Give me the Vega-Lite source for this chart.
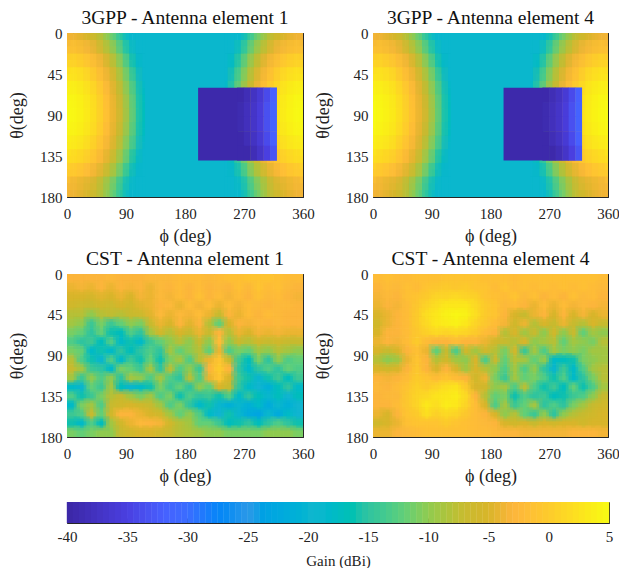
{"$schema":"https://vega.github.io/schema/vega-lite/v6.json","background":"white","padding":{"left":8,"top":7,"right":5,"bottom":0},
"config":{"font":"Liberation Serif","view":{"stroke":"#262626","strokeWidth":1},"title":{"font":"Liberation Serif","fontSize":19.5,"fontWeight":"normal","color":"#111","offset":-2},
"axis":{"grid":false,"domain":false,"tickSize":-3,"tickColor":"#262626","labelColor":"#222","titleColor":"#222","labelFont":"Liberation Serif","titleFont":"Liberation Serif","labelFontSize":15,"titleFontSize":18,"titleFontWeight":"normal","zindex":1,"labelFlush":false,"labelAngle":0},"axisX":{"labelPadding":12,"titlePadding":6},"axisY":{"labelPadding":8,"titlePadding":13}},
"datasets":{
"box":[{"a":119,"b":241,"c":0,"d":180,"g":-19},{"a":200,"b":261,"c":60,"d":140,"g":-39.5}],
"hole":[{"f":265,"t":68,"g":-39.5},{"f":275,"t":68,"g":-38.5},{"f":285,"t":68,"g":-37.5},{"f":295,"t":68,"g":-36},{"f":305,"t":68,"g":-34},{"f":315,"t":68,"g":-32},
{"f":265,"t":84,"g":-39},{"f":275,"t":84,"g":-38},{"f":285,"t":84,"g":-37},{"f":295,"t":84,"g":-35.5},{"f":305,"t":84,"g":-33.5},{"f":315,"t":84,"g":-31.5},
{"f":265,"t":100,"g":-39},{"f":275,"t":100,"g":-38},{"f":285,"t":100,"g":-37},{"f":295,"t":100,"g":-35.5},{"f":305,"t":100,"g":-33.5},{"f":315,"t":100,"g":-31.5},
{"f":265,"t":116,"g":-39.5},{"f":275,"t":116,"g":-38.5},{"f":285,"t":116,"g":-37.5},{"f":295,"t":116,"g":-36},{"f":305,"t":116,"g":-34},{"f":315,"t":116,"g":-32},
{"f":265,"t":132,"g":-39.5},{"f":275,"t":132,"g":-39.5},{"f":285,"t":132,"g":-38.5},{"f":295,"t":132,"g":-37},{"f":305,"t":132,"g":-35},{"f":315,"t":132,"g":-33}],
"gpp":[
{"f":5,"t":7.5,"g":-3.6},{"f":15,"t":7.5,"g":-4},{"f":25,"t":7.5,"g":-4.6},{"f":35,"t":7.5,"g":-5.6},{"f":45,"t":7.5,"g":-7},{"f":55,"t":7.5,"g":-8.6},{"f":65,"t":7.5,"g":-10.6},{"f":75,"t":7.5,"g":-13},{"f":85,"t":7.5,"g":-15.6},{"f":95,"t":7.5,"g":-18.6},{"f":105,"t":7.5,"g":-19},{"f":115,"t":7.5,"g":-19},
{"f":245,"t":7.5,"g":-19},{"f":255,"t":7.5,"g":-19},{"f":265,"t":7.5,"g":-18.6},{"f":275,"t":7.5,"g":-15.6},{"f":285,"t":7.5,"g":-13},{"f":295,"t":7.5,"g":-10.6},{"f":305,"t":7.5,"g":-8.6},{"f":315,"t":7.5,"g":-7},{"f":325,"t":7.5,"g":-5.6},{"f":335,"t":7.5,"g":-4.6},{"f":345,"t":7.5,"g":-4},{"f":355,"t":7.5,"g":-3.6},
{"f":5,"t":22.5,"g":-0.8},{"f":15,"t":22.5,"g":-1.1},{"f":25,"t":22.5,"g":-1.8},{"f":35,"t":22.5,"g":-2.8},{"f":45,"t":22.5,"g":-4.1},{"f":55,"t":22.5,"g":-5.8},{"f":65,"t":22.5,"g":-7.8},{"f":75,"t":22.5,"g":-10.1},{"f":85,"t":22.5,"g":-12.8},{"f":95,"t":22.5,"g":-15.8},{"f":105,"t":22.5,"g":-19},{"f":115,"t":22.5,"g":-19},
{"f":245,"t":22.5,"g":-19},{"f":255,"t":22.5,"g":-19},{"f":265,"t":22.5,"g":-15.8},{"f":275,"t":22.5,"g":-12.8},{"f":285,"t":22.5,"g":-10.1},{"f":295,"t":22.5,"g":-7.8},{"f":305,"t":22.5,"g":-5.8},{"f":315,"t":22.5,"g":-4.1},{"f":325,"t":22.5,"g":-2.8},{"f":335,"t":22.5,"g":-1.8},{"f":345,"t":22.5,"g":-1.1},{"f":355,"t":22.5,"g":-0.8},
{"f":5,"t":37.5,"g":1.5},{"f":15,"t":37.5,"g":1.1},{"f":25,"t":37.5,"g":0.5},{"f":35,"t":37.5,"g":-0.5},{"f":45,"t":37.5,"g":-1.9},{"f":55,"t":37.5,"g":-3.5},{"f":65,"t":37.5,"g":-5.5},{"f":75,"t":37.5,"g":-7.9},{"f":85,"t":37.5,"g":-10.5},{"f":95,"t":37.5,"g":-13.5},{"f":105,"t":37.5,"g":-16.9},{"f":115,"t":37.5,"g":-19},
{"f":245,"t":37.5,"g":-19},{"f":255,"t":37.5,"g":-16.9},{"f":265,"t":37.5,"g":-13.5},{"f":275,"t":37.5,"g":-10.5},{"f":285,"t":37.5,"g":-7.9},{"f":295,"t":37.5,"g":-5.5},{"f":305,"t":37.5,"g":-3.5},{"f":315,"t":37.5,"g":-1.9},{"f":325,"t":37.5,"g":-0.5},{"f":335,"t":37.5,"g":0.5},{"f":345,"t":37.5,"g":1.1},{"f":355,"t":37.5,"g":1.5},
{"f":5,"t":52.5,"g":3.2},{"f":15,"t":52.5,"g":2.8},{"f":25,"t":52.5,"g":2.2},{"f":35,"t":52.5,"g":1.2},{"f":45,"t":52.5,"g":-0.2},{"f":55,"t":52.5,"g":-1.8},{"f":65,"t":52.5,"g":-3.8},{"f":75,"t":52.5,"g":-6.2},{"f":85,"t":52.5,"g":-8.8},{"f":95,"t":52.5,"g":-11.8},{"f":105,"t":52.5,"g":-15.2},{"f":115,"t":52.5,"g":-18.8},
{"f":245,"t":52.5,"g":-18.8},{"f":255,"t":52.5,"g":-15.2},{"f":265,"t":52.5,"g":-11.8},{"f":275,"t":52.5,"g":-8.8},{"f":285,"t":52.5,"g":-6.2},{"f":295,"t":52.5,"g":-3.8},{"f":305,"t":52.5,"g":-1.8},{"f":315,"t":52.5,"g":-0.2},{"f":325,"t":52.5,"g":1.2},{"f":335,"t":52.5,"g":2.2},{"f":345,"t":52.5,"g":2.8},{"f":355,"t":52.5,"g":3.2},
{"f":5,"t":67.5,"g":4.3},{"f":15,"t":67.5,"g":4},{"f":25,"t":67.5,"g":3.3},{"f":35,"t":67.5,"g":2.3},{"f":45,"t":67.5,"g":1},{"f":55,"t":67.5,"g":-0.7},{"f":65,"t":67.5,"g":-2.7},{"f":75,"t":67.5,"g":-5},{"f":85,"t":67.5,"g":-7.7},{"f":95,"t":67.5,"g":-10.7},{"f":105,"t":67.5,"g":-14},{"f":115,"t":67.5,"g":-17.6},
{"f":245,"t":67.5,"g":-17.6},{"f":255,"t":67.5,"g":-14},{"f":265,"t":67.5,"g":-10.7},{"f":275,"t":67.5,"g":-7.7},{"f":285,"t":67.5,"g":-5},{"f":295,"t":67.5,"g":-2.7},{"f":305,"t":67.5,"g":-0.7},{"f":315,"t":67.5,"g":1},{"f":325,"t":67.5,"g":2.3},{"f":335,"t":67.5,"g":3.3},{"f":345,"t":67.5,"g":4},{"f":355,"t":67.5,"g":4.3},
{"f":5,"t":82.5,"g":4.9},{"f":15,"t":82.5,"g":4.5},{"f":25,"t":82.5,"g":3.9},{"f":35,"t":82.5,"g":2.9},{"f":45,"t":82.5,"g":1.5},{"f":55,"t":82.5,"g":-0.1},{"f":65,"t":82.5,"g":-2.1},{"f":75,"t":82.5,"g":-4.5},{"f":85,"t":82.5,"g":-7.1},{"f":95,"t":82.5,"g":-10.1},{"f":105,"t":82.5,"g":-13.5},{"f":115,"t":82.5,"g":-17.1},
{"f":245,"t":82.5,"g":-17.1},{"f":255,"t":82.5,"g":-13.5},{"f":265,"t":82.5,"g":-10.1},{"f":275,"t":82.5,"g":-7.1},{"f":285,"t":82.5,"g":-4.5},{"f":295,"t":82.5,"g":-2.1},{"f":305,"t":82.5,"g":-0.1},{"f":315,"t":82.5,"g":1.5},{"f":325,"t":82.5,"g":2.9},{"f":335,"t":82.5,"g":3.9},{"f":345,"t":82.5,"g":4.5},{"f":355,"t":82.5,"g":4.9},
{"f":5,"t":97.5,"g":4.9},{"f":15,"t":97.5,"g":4.5},{"f":25,"t":97.5,"g":3.9},{"f":35,"t":97.5,"g":2.9},{"f":45,"t":97.5,"g":1.5},{"f":55,"t":97.5,"g":-0.1},{"f":65,"t":97.5,"g":-2.1},{"f":75,"t":97.5,"g":-4.5},{"f":85,"t":97.5,"g":-7.1},{"f":95,"t":97.5,"g":-10.1},{"f":105,"t":97.5,"g":-13.5},{"f":115,"t":97.5,"g":-17.1},
{"f":245,"t":97.5,"g":-17.1},{"f":255,"t":97.5,"g":-13.5},{"f":265,"t":97.5,"g":-10.1},{"f":275,"t":97.5,"g":-7.1},{"f":285,"t":97.5,"g":-4.5},{"f":295,"t":97.5,"g":-2.1},{"f":305,"t":97.5,"g":-0.1},{"f":315,"t":97.5,"g":1.5},{"f":325,"t":97.5,"g":2.9},{"f":335,"t":97.5,"g":3.9},{"f":345,"t":97.5,"g":4.5},{"f":355,"t":97.5,"g":4.9},
{"f":5,"t":112.5,"g":4.3},{"f":15,"t":112.5,"g":4},{"f":25,"t":112.5,"g":3.3},{"f":35,"t":112.5,"g":2.3},{"f":45,"t":112.5,"g":1},{"f":55,"t":112.5,"g":-0.7},{"f":65,"t":112.5,"g":-2.7},{"f":75,"t":112.5,"g":-5},{"f":85,"t":112.5,"g":-7.7},{"f":95,"t":112.5,"g":-10.7},{"f":105,"t":112.5,"g":-14},{"f":115,"t":112.5,"g":-17.6},
{"f":245,"t":112.5,"g":-17.6},{"f":255,"t":112.5,"g":-14},{"f":265,"t":112.5,"g":-10.7},{"f":275,"t":112.5,"g":-7.7},{"f":285,"t":112.5,"g":-5},{"f":295,"t":112.5,"g":-2.7},{"f":305,"t":112.5,"g":-0.7},{"f":315,"t":112.5,"g":1},{"f":325,"t":112.5,"g":2.3},{"f":335,"t":112.5,"g":3.3},{"f":345,"t":112.5,"g":4},{"f":355,"t":112.5,"g":4.3},
{"f":5,"t":127.5,"g":3.2},{"f":15,"t":127.5,"g":2.8},{"f":25,"t":127.5,"g":2.2},{"f":35,"t":127.5,"g":1.2},{"f":45,"t":127.5,"g":-0.2},{"f":55,"t":127.5,"g":-1.8},{"f":65,"t":127.5,"g":-3.8},{"f":75,"t":127.5,"g":-6.2},{"f":85,"t":127.5,"g":-8.8},{"f":95,"t":127.5,"g":-11.8},{"f":105,"t":127.5,"g":-15.2},{"f":115,"t":127.5,"g":-18.8},
{"f":245,"t":127.5,"g":-18.8},{"f":255,"t":127.5,"g":-15.2},{"f":265,"t":127.5,"g":-11.8},{"f":275,"t":127.5,"g":-8.8},{"f":285,"t":127.5,"g":-6.2},{"f":295,"t":127.5,"g":-3.8},{"f":305,"t":127.5,"g":-1.8},{"f":315,"t":127.5,"g":-0.2},{"f":325,"t":127.5,"g":1.2},{"f":335,"t":127.5,"g":2.2},{"f":345,"t":127.5,"g":2.8},{"f":355,"t":127.5,"g":3.2},
{"f":5,"t":142.5,"g":1.5},{"f":15,"t":142.5,"g":1.1},{"f":25,"t":142.5,"g":0.5},{"f":35,"t":142.5,"g":-0.5},{"f":45,"t":142.5,"g":-1.9},{"f":55,"t":142.5,"g":-3.5},{"f":65,"t":142.5,"g":-5.5},{"f":75,"t":142.5,"g":-7.9},{"f":85,"t":142.5,"g":-10.5},{"f":95,"t":142.5,"g":-13.5},{"f":105,"t":142.5,"g":-16.9},{"f":115,"t":142.5,"g":-19},
{"f":245,"t":142.5,"g":-19},{"f":255,"t":142.5,"g":-16.9},{"f":265,"t":142.5,"g":-13.5},{"f":275,"t":142.5,"g":-10.5},{"f":285,"t":142.5,"g":-7.9},{"f":295,"t":142.5,"g":-5.5},{"f":305,"t":142.5,"g":-3.5},{"f":315,"t":142.5,"g":-1.9},{"f":325,"t":142.5,"g":-0.5},{"f":335,"t":142.5,"g":0.5},{"f":345,"t":142.5,"g":1.1},{"f":355,"t":142.5,"g":1.5},
{"f":5,"t":157.5,"g":-0.8},{"f":15,"t":157.5,"g":-1.1},{"f":25,"t":157.5,"g":-1.8},{"f":35,"t":157.5,"g":-2.8},{"f":45,"t":157.5,"g":-4.1},{"f":55,"t":157.5,"g":-5.8},{"f":65,"t":157.5,"g":-7.8},{"f":75,"t":157.5,"g":-10.1},{"f":85,"t":157.5,"g":-12.8},{"f":95,"t":157.5,"g":-15.8},{"f":105,"t":157.5,"g":-19},{"f":115,"t":157.5,"g":-19},
{"f":245,"t":157.5,"g":-19},{"f":255,"t":157.5,"g":-19},{"f":265,"t":157.5,"g":-15.8},{"f":275,"t":157.5,"g":-12.8},{"f":285,"t":157.5,"g":-10.1},{"f":295,"t":157.5,"g":-7.8},{"f":305,"t":157.5,"g":-5.8},{"f":315,"t":157.5,"g":-4.1},{"f":325,"t":157.5,"g":-2.8},{"f":335,"t":157.5,"g":-1.8},{"f":345,"t":157.5,"g":-1.1},{"f":355,"t":157.5,"g":-0.8},
{"f":5,"t":172.5,"g":-3.6},{"f":15,"t":172.5,"g":-4},{"f":25,"t":172.5,"g":-4.6},{"f":35,"t":172.5,"g":-5.6},{"f":45,"t":172.5,"g":-7},{"f":55,"t":172.5,"g":-8.6},{"f":65,"t":172.5,"g":-10.6},{"f":75,"t":172.5,"g":-13},{"f":85,"t":172.5,"g":-15.6},{"f":95,"t":172.5,"g":-18.6},{"f":105,"t":172.5,"g":-19},{"f":115,"t":172.5,"g":-19},
{"f":245,"t":172.5,"g":-19},{"f":255,"t":172.5,"g":-19},{"f":265,"t":172.5,"g":-18.6},{"f":275,"t":172.5,"g":-15.6},{"f":285,"t":172.5,"g":-13},{"f":295,"t":172.5,"g":-10.6},{"f":305,"t":172.5,"g":-8.6},{"f":315,"t":172.5,"g":-7},{"f":325,"t":172.5,"g":-5.6},{"f":335,"t":172.5,"g":-4.6},{"f":345,"t":172.5,"g":-4},{"f":355,"t":172.5,"g":-3.6}],
"cst":[
{"f":7.5,"t":5,"p":-3,"q":-2},{"f":22.5,"t":5,"p":-3,"q":-1.5},{"f":37.5,"t":5,"p":-3,"q":-2},{"f":52.5,"t":5,"p":-3,"q":-2},{"f":67.5,"t":5,"p":-2.5,"q":-1.5},{"f":82.5,"t":5,"p":-3,"q":-1.5},{"f":97.5,"t":5,"p":-3,"q":-1.5},{"f":112.5,"t":5,"p":-3,"q":-1},{"f":127.5,"t":5,"p":-2.5,"q":-1},{"f":142.5,"t":5,"p":-2.5,"q":-1},{"f":157.5,"t":5,"p":-2.5,"q":-1},{"f":172.5,"t":5,"p":-2,"q":-1.5},{"f":187.5,"t":5,"p":-2,"q":-1.5},{"f":202.5,"t":5,"p":-2,"q":-1.5},{"f":217.5,"t":5,"p":-2.5,"q":-2},{"f":232.5,"t":5,"p":-2,"q":-1.5},{"f":247.5,"t":5,"p":-1.5,"q":-1.5},{"f":262.5,"t":5,"p":-1.5,"q":-1.5},{"f":277.5,"t":5,"p":-1,"q":-1.5},{"f":292.5,"t":5,"p":-1,"q":-1.5},{"f":307.5,"t":5,"p":-1,"q":-1.5},{"f":322.5,"t":5,"p":-1.5,"q":-1.5},{"f":337.5,"t":5,"p":-2,"q":-1.5},{"f":352.5,"t":5,"p":-2,"q":-2},
{"f":7.5,"t":15,"p":-4,"q":-3},{"f":22.5,"t":15,"p":-3.5,"q":-2},{"f":37.5,"t":15,"p":-4,"q":-2.5},{"f":52.5,"t":15,"p":-3,"q":-1.5},{"f":67.5,"t":15,"p":-4,"q":-2},{"f":82.5,"t":15,"p":-3,"q":-1},{"f":97.5,"t":15,"p":-3.5,"q":-0.5},{"f":112.5,"t":15,"p":-3,"q":0},{"f":127.5,"t":15,"p":-4,"q":-0.5},{"f":142.5,"t":15,"p":-2.5,"q":0},{"f":157.5,"t":15,"p":-3,"q":-1},{"f":172.5,"t":15,"p":-2,"q":-1},{"f":187.5,"t":15,"p":-3,"q":-2},{"f":202.5,"t":15,"p":-2,"q":-1},{"f":217.5,"t":15,"p":-3,"q":-2},{"f":232.5,"t":15,"p":-2.5,"q":-1.5},{"f":247.5,"t":15,"p":-3,"q":-2},{"f":262.5,"t":15,"p":-1.5,"q":-1.5},{"f":277.5,"t":15,"p":-2.5,"q":-2},{"f":292.5,"t":15,"p":-1,"q":-1.5},{"f":307.5,"t":15,"p":-2,"q":-2},{"f":322.5,"t":15,"p":-1.5,"q":-1.5},{"f":337.5,"t":15,"p":-2.5,"q":-2},{"f":352.5,"t":15,"p":-3,"q":-2.5},
{"f":7.5,"t":25,"p":-5,"q":-3.5},{"f":22.5,"t":25,"p":-5,"q":-2.5},{"f":37.5,"t":25,"p":-5.5,"q":-3},{"f":52.5,"t":25,"p":-4.5,"q":-1.5},{"f":67.5,"t":25,"p":-5,"q":-1},{"f":82.5,"t":25,"p":-4,"q":0},{"f":97.5,"t":25,"p":-5,"q":1},{"f":112.5,"t":25,"p":-3.5,"q":1},{"f":127.5,"t":25,"p":-4,"q":1.5},{"f":142.5,"t":25,"p":-2.5,"q":1},{"f":157.5,"t":25,"p":-3.5,"q":0.5},{"f":172.5,"t":25,"p":-2,"q":-1},{"f":187.5,"t":25,"p":-3,"q":-1.5},{"f":202.5,"t":25,"p":-1.5,"q":-2},{"f":217.5,"t":25,"p":-3,"q":-1},{"f":232.5,"t":25,"p":-2,"q":-2.5},{"f":247.5,"t":25,"p":-3.5,"q":-1.5},{"f":262.5,"t":25,"p":-2,"q":-3},{"f":277.5,"t":25,"p":-3,"q":-2},{"f":292.5,"t":25,"p":-1.5,"q":-3},{"f":307.5,"t":25,"p":-2.5,"q":-1.5},{"f":322.5,"t":25,"p":-2,"q":-2.5},{"f":337.5,"t":25,"p":-3,"q":-2},{"f":352.5,"t":25,"p":-3.5,"q":-3},
{"f":7.5,"t":35,"p":-6,"q":-4},{"f":22.5,"t":35,"p":-6.5,"q":-3},{"f":37.5,"t":35,"p":-7,"q":-3.5},{"f":52.5,"t":35,"p":-6,"q":-2},{"f":67.5,"t":35,"p":-6.5,"q":-0.5},{"f":82.5,"t":35,"p":-5,"q":1},{"f":97.5,"t":35,"p":-6,"q":2},{"f":112.5,"t":35,"p":-4.5,"q":3},{"f":127.5,"t":35,"p":-4,"q":3},{"f":142.5,"t":35,"p":-3,"q":3},{"f":157.5,"t":35,"p":-2.5,"q":1.5},{"f":172.5,"t":35,"p":-4,"q":0},{"f":187.5,"t":35,"p":-2,"q":-1},{"f":202.5,"t":35,"p":-3.5,"q":-2.5},{"f":217.5,"t":35,"p":-2,"q":-2},{"f":232.5,"t":35,"p":-4,"q":-3},{"f":247.5,"t":35,"p":-2,"q":-4},{"f":262.5,"t":35,"p":-3.5,"q":-2},{"f":277.5,"t":35,"p":-2,"q":-4},{"f":292.5,"t":35,"p":-2.5,"q":-2},{"f":307.5,"t":35,"p":-3,"q":-3.5},{"f":322.5,"t":35,"p":-2.5,"q":-2.5},{"f":337.5,"t":35,"p":-2.5,"q":-3},{"f":352.5,"t":35,"p":-3,"q":-3.5},
{"f":7.5,"t":45,"p":-8,"q":-5},{"f":22.5,"t":45,"p":-8,"q":-4},{"f":37.5,"t":45,"p":-10,"q":-3},{"f":52.5,"t":45,"p":-8,"q":-2},{"f":67.5,"t":45,"p":-7.5,"q":0},{"f":82.5,"t":45,"p":-8,"q":2},{"f":97.5,"t":45,"p":-7,"q":3},{"f":112.5,"t":45,"p":-6.5,"q":4},{"f":127.5,"t":45,"p":-4.5,"q":4.5},{"f":142.5,"t":45,"p":-2.5,"q":4},{"f":157.5,"t":45,"p":-4,"q":2},{"f":172.5,"t":45,"p":-2.5,"q":0},{"f":187.5,"t":45,"p":-3.5,"q":-1},{"f":202.5,"t":45,"p":-2,"q":-3},{"f":217.5,"t":45,"p":-4,"q":-5},{"f":232.5,"t":45,"p":-7,"q":-7},{"f":247.5,"t":45,"p":-3,"q":-4},{"f":262.5,"t":45,"p":-4,"q":-3},{"f":277.5,"t":45,"p":-2,"q":-5},{"f":292.5,"t":45,"p":-3,"q":-3},{"f":307.5,"t":45,"p":-2,"q":-5},{"f":322.5,"t":45,"p":-2.5,"q":-3.5},{"f":337.5,"t":45,"p":-3,"q":-5},{"f":352.5,"t":45,"p":-3,"q":-4},
{"f":7.5,"t":55,"p":-9,"q":-6},{"f":22.5,"t":55,"p":-10,"q":-4},{"f":37.5,"t":55,"p":-14,"q":-3},{"f":52.5,"t":55,"p":-11,"q":-2},{"f":67.5,"t":55,"p":-14,"q":0},{"f":82.5,"t":55,"p":-12,"q":1.5},{"f":97.5,"t":55,"p":-10,"q":3},{"f":112.5,"t":55,"p":-11,"q":3.5},{"f":127.5,"t":55,"p":-7,"q":4},{"f":142.5,"t":55,"p":-4,"q":3},{"f":157.5,"t":55,"p":-5,"q":1},{"f":172.5,"t":55,"p":-3,"q":-0.5},{"f":187.5,"t":55,"p":-4.5,"q":-2},{"f":202.5,"t":55,"p":-3,"q":-3.5},{"f":217.5,"t":55,"p":-8,"q":-6},{"f":232.5,"t":55,"p":-12,"q":-4},{"f":247.5,"t":55,"p":-5,"q":-8},{"f":262.5,"t":55,"p":-3,"q":-5},{"f":277.5,"t":55,"p":-3.5,"q":-7},{"f":292.5,"t":55,"p":-2.5,"q":-4},{"f":307.5,"t":55,"p":-3,"q":-7},{"f":322.5,"t":55,"p":-2.5,"q":-8},{"f":337.5,"t":55,"p":-3,"q":-5},{"f":352.5,"t":55,"p":-3,"q":-7},
{"f":7.5,"t":65,"p":-11,"q":-5},{"f":22.5,"t":65,"p":-12,"q":-3},{"f":37.5,"t":65,"p":-15,"q":-3},{"f":52.5,"t":65,"p":-12,"q":-2},{"f":67.5,"t":65,"p":-16,"q":-0.5},{"f":82.5,"t":65,"p":-17,"q":0.5},{"f":97.5,"t":65,"p":-13,"q":1.5},{"f":112.5,"t":65,"p":-15,"q":1},{"f":127.5,"t":65,"p":-9,"q":1.5},{"f":142.5,"t":65,"p":-6,"q":1},{"f":157.5,"t":65,"p":-8,"q":0},{"f":172.5,"t":65,"p":-5,"q":-2},{"f":187.5,"t":65,"p":-7,"q":-3},{"f":202.5,"t":65,"p":-4,"q":-8},{"f":217.5,"t":65,"p":-7,"q":-5},{"f":232.5,"t":65,"p":-3,"q":-9},{"f":247.5,"t":65,"p":-8,"q":-7},{"f":262.5,"t":65,"p":-4,"q":-10},{"f":277.5,"t":65,"p":-5,"q":-6},{"f":292.5,"t":65,"p":-3.5,"q":-10},{"f":307.5,"t":65,"p":-4,"q":-7},{"f":322.5,"t":65,"p":-3.5,"q":-12},{"f":337.5,"t":65,"p":-4,"q":-9},{"f":352.5,"t":65,"p":-4,"q":-10},
{"f":7.5,"t":75,"p":-13,"q":-4},{"f":22.5,"t":75,"p":-15,"q":-3},{"f":37.5,"t":75,"p":-14,"q":-3.5},{"f":52.5,"t":75,"p":-17,"q":-2},{"f":67.5,"t":75,"p":-13,"q":0},{"f":82.5,"t":75,"p":-18,"q":-2},{"f":97.5,"t":75,"p":-16,"q":-3},{"f":112.5,"t":75,"p":-18,"q":-3},{"f":127.5,"t":75,"p":-14,"q":-2},{"f":142.5,"t":75,"p":-12,"q":-3},{"f":157.5,"t":75,"p":-10,"q":-3},{"f":172.5,"t":75,"p":-8,"q":-4},{"f":187.5,"t":75,"p":-10,"q":-6},{"f":202.5,"t":75,"p":-7,"q":-7},{"f":217.5,"t":75,"p":-10,"q":-8},{"f":232.5,"t":75,"p":-2,"q":-5},{"f":247.5,"t":75,"p":-10,"q":-10},{"f":262.5,"t":75,"p":-7,"q":-9},{"f":277.5,"t":75,"p":-8,"q":-8},{"f":292.5,"t":75,"p":-6,"q":-12},{"f":307.5,"t":75,"p":-7,"q":-9},{"f":322.5,"t":75,"p":-6,"q":-10},{"f":337.5,"t":75,"p":-7,"q":-11},{"f":352.5,"t":75,"p":-7,"q":-8},
{"f":7.5,"t":85,"p":-11,"q":-5},{"f":22.5,"t":85,"p":-12,"q":-7},{"f":37.5,"t":85,"p":-18,"q":-5},{"f":52.5,"t":85,"p":-16,"q":-3},{"f":67.5,"t":85,"p":-18,"q":-1.5},{"f":82.5,"t":85,"p":-15,"q":-4},{"f":97.5,"t":85,"p":-17,"q":-12},{"f":112.5,"t":85,"p":-15,"q":-7},{"f":127.5,"t":85,"p":-13,"q":-13},{"f":142.5,"t":85,"p":-15,"q":-6},{"f":157.5,"t":85,"p":-9,"q":-9},{"f":172.5,"t":85,"p":-12,"q":-6},{"f":187.5,"t":85,"p":-10,"q":-8},{"f":202.5,"t":85,"p":-8,"q":-11},{"f":217.5,"t":85,"p":-12,"q":-6},{"f":232.5,"t":85,"p":-4,"q":-14},{"f":247.5,"t":85,"p":-13,"q":-9},{"f":262.5,"t":85,"p":-11,"q":-13},{"f":277.5,"t":85,"p":-12,"q":-9},{"f":292.5,"t":85,"p":-9,"q":-11},{"f":307.5,"t":85,"p":-10,"q":-10},{"f":322.5,"t":85,"p":-8,"q":-11},{"f":337.5,"t":85,"p":-9,"q":-9},{"f":352.5,"t":85,"p":-10,"q":-9},
{"f":7.5,"t":95,"p":-8,"q":-8},{"f":22.5,"t":95,"p":-13,"q":-10},{"f":37.5,"t":95,"p":-16,"q":-9},{"f":52.5,"t":95,"p":-19,"q":-4},{"f":67.5,"t":95,"p":-13,"q":-1},{"f":82.5,"t":95,"p":-18,"q":-3},{"f":97.5,"t":95,"p":-14,"q":-8},{"f":112.5,"t":95,"p":-16,"q":-6},{"f":127.5,"t":95,"p":-12,"q":-9},{"f":142.5,"t":95,"p":-16,"q":-10},{"f":157.5,"t":95,"p":-11,"q":-5},{"f":172.5,"t":95,"p":-9,"q":-13},{"f":187.5,"t":95,"p":-13,"q":-7},{"f":202.5,"t":95,"p":-8,"q":-12},{"f":217.5,"t":95,"p":-4,"q":-8},{"f":232.5,"t":95,"p":-1,"q":-9},{"f":247.5,"t":95,"p":-7,"q":-12},{"f":262.5,"t":95,"p":-14,"q":-10},{"f":277.5,"t":95,"p":-17,"q":-18},{"f":292.5,"t":95,"p":-11,"q":-17},{"f":307.5,"t":95,"p":-15,"q":-16},{"f":322.5,"t":95,"p":-10,"q":-11},{"f":337.5,"t":95,"p":-13,"q":-10},{"f":352.5,"t":95,"p":-12,"q":-9},
{"f":7.5,"t":105,"p":-7,"q":-5},{"f":22.5,"t":105,"p":-9,"q":-6},{"f":37.5,"t":105,"p":-14,"q":-5},{"f":52.5,"t":105,"p":-15,"q":-3},{"f":67.5,"t":105,"p":-18,"q":-0.5},{"f":82.5,"t":105,"p":-11,"q":-3},{"f":97.5,"t":105,"p":-12,"q":-5},{"f":112.5,"t":105,"p":-14,"q":-3},{"f":127.5,"t":105,"p":-9,"q":-5},{"f":142.5,"t":105,"p":-15,"q":-9},{"f":157.5,"t":105,"p":-8,"q":-5},{"f":172.5,"t":105,"p":-13,"q":-8},{"f":187.5,"t":105,"p":-10,"q":-10},{"f":202.5,"t":105,"p":-14,"q":-13},{"f":217.5,"t":105,"p":-3,"q":-9},{"f":232.5,"t":105,"p":0,"q":-13},{"f":247.5,"t":105,"p":-3,"q":-10},{"f":262.5,"t":105,"p":-15,"q":-15},{"f":277.5,"t":105,"p":-18,"q":-19},{"f":292.5,"t":105,"p":-15,"q":-14},{"f":307.5,"t":105,"p":-13,"q":-18},{"f":322.5,"t":105,"p":-15,"q":-13},{"f":337.5,"t":105,"p":-12,"q":-9},{"f":352.5,"t":105,"p":-13,"q":-8},
{"f":7.5,"t":115,"p":-9,"q":-3},{"f":22.5,"t":115,"p":-14,"q":-3.5},{"f":37.5,"t":115,"p":-10,"q":-3},{"f":52.5,"t":115,"p":-13,"q":-2},{"f":67.5,"t":115,"p":-10,"q":0},{"f":82.5,"t":115,"p":-15,"q":-1},{"f":97.5,"t":115,"p":-9,"q":-2},{"f":112.5,"t":115,"p":-10,"q":-1},{"f":127.5,"t":115,"p":-13,"q":-2},{"f":142.5,"t":115,"p":-9,"q":-3},{"f":157.5,"t":115,"p":-13,"q":-6},{"f":172.5,"t":115,"p":-15,"q":-4},{"f":187.5,"t":115,"p":-8,"q":-11},{"f":202.5,"t":115,"p":-13,"q":-14},{"f":217.5,"t":115,"p":-4,"q":-9},{"f":232.5,"t":115,"p":-1,"q":-12},{"f":247.5,"t":115,"p":-5,"q":-11},{"f":262.5,"t":115,"p":-14,"q":-13},{"f":277.5,"t":115,"p":-16,"q":-16},{"f":292.5,"t":115,"p":-19,"q":-13},{"f":307.5,"t":115,"p":-16,"q":-18},{"f":322.5,"t":115,"p":-14,"q":-15},{"f":337.5,"t":115,"p":-17,"q":-11},{"f":352.5,"t":115,"p":-14,"q":-8},
{"f":7.5,"t":125,"p":-18,"q":-2.5},{"f":22.5,"t":125,"p":-19,"q":-3},{"f":37.5,"t":125,"p":-12,"q":-2},{"f":52.5,"t":125,"p":-14,"q":-1},{"f":67.5,"t":125,"p":-9,"q":0.5},{"f":82.5,"t":125,"p":-17,"q":0},{"f":97.5,"t":125,"p":-19,"q":1},{"f":112.5,"t":125,"p":-18,"q":2},{"f":127.5,"t":125,"p":-16,"q":2.5},{"f":142.5,"t":125,"p":-11,"q":0},{"f":157.5,"t":125,"p":-14,"q":-5},{"f":172.5,"t":125,"p":-12,"q":-6},{"f":187.5,"t":125,"p":-15,"q":-10},{"f":202.5,"t":125,"p":-10,"q":-9},{"f":217.5,"t":125,"p":-12,"q":-13},{"f":232.5,"t":125,"p":-5,"q":-8},{"f":247.5,"t":125,"p":-7,"q":-13},{"f":262.5,"t":125,"p":-15,"q":-16},{"f":277.5,"t":125,"p":-18,"q":-14},{"f":292.5,"t":125,"p":-20,"q":-17},{"f":307.5,"t":125,"p":-21,"q":-12},{"f":322.5,"t":125,"p":-17,"q":-16},{"f":337.5,"t":125,"p":-15,"q":-13},{"f":352.5,"t":125,"p":-18,"q":-9},
{"f":7.5,"t":135,"p":-13,"q":-3},{"f":22.5,"t":135,"p":-16,"q":-2.5},{"f":37.5,"t":135,"p":-14,"q":-2.5},{"f":52.5,"t":135,"p":-11,"q":-0.5},{"f":67.5,"t":135,"p":-8,"q":1},{"f":82.5,"t":135,"p":-7,"q":1.5},{"f":97.5,"t":135,"p":-9,"q":2.5},{"f":112.5,"t":135,"p":-11,"q":3},{"f":127.5,"t":135,"p":-9,"q":3.5},{"f":142.5,"t":135,"p":-13,"q":1.5},{"f":157.5,"t":135,"p":-11,"q":-3},{"f":172.5,"t":135,"p":-16,"q":-8},{"f":187.5,"t":135,"p":-13,"q":-12},{"f":202.5,"t":135,"p":-15,"q":-11},{"f":217.5,"t":135,"p":-14,"q":-16},{"f":232.5,"t":135,"p":-16,"q":-13},{"f":247.5,"t":135,"p":-13,"q":-15},{"f":262.5,"t":135,"p":-18,"q":-14},{"f":277.5,"t":135,"p":-15,"q":-17},{"f":292.5,"t":135,"p":-17,"q":-16},{"f":307.5,"t":135,"p":-19,"q":-14},{"f":322.5,"t":135,"p":-17,"q":-13},{"f":337.5,"t":135,"p":-20,"q":-10},{"f":352.5,"t":135,"p":-17,"q":-7},
{"f":7.5,"t":145,"p":-18,"q":-3},{"f":22.5,"t":145,"p":-11,"q":-3},{"f":37.5,"t":145,"p":-9,"q":-2},{"f":52.5,"t":145,"p":-13,"q":-0.5},{"f":67.5,"t":145,"p":-7,"q":1},{"f":82.5,"t":145,"p":-6,"q":3},{"f":97.5,"t":145,"p":-5,"q":2},{"f":112.5,"t":145,"p":-6,"q":3.5},{"f":127.5,"t":145,"p":-7,"q":3},{"f":142.5,"t":145,"p":-9,"q":1},{"f":157.5,"t":145,"p":-13,"q":-2},{"f":172.5,"t":145,"p":-11,"q":-5},{"f":187.5,"t":145,"p":-15,"q":-13},{"f":202.5,"t":145,"p":-18,"q":-9},{"f":217.5,"t":145,"p":-16,"q":-14},{"f":232.5,"t":145,"p":-19,"q":-12},{"f":247.5,"t":145,"p":-21,"q":-9},{"f":262.5,"t":145,"p":-19,"q":-15},{"f":277.5,"t":145,"p":-21,"q":-13},{"f":292.5,"t":145,"p":-18,"q":-15},{"f":307.5,"t":145,"p":-22,"q":-11},{"f":322.5,"t":145,"p":-19,"q":-9},{"f":337.5,"t":145,"p":-21,"q":-7},{"f":352.5,"t":145,"p":-20,"q":-6},
{"f":7.5,"t":155,"p":-14,"q":-4},{"f":22.5,"t":155,"p":-13,"q":-5},{"f":37.5,"t":155,"p":-7,"q":-3},{"f":52.5,"t":155,"p":-12,"q":-1},{"f":67.5,"t":155,"p":-6,"q":0},{"f":82.5,"t":155,"p":-3,"q":2},{"f":97.5,"t":155,"p":-3,"q":0.5},{"f":112.5,"t":155,"p":-4,"q":1.5},{"f":127.5,"t":155,"p":-5,"q":1},{"f":142.5,"t":155,"p":-6,"q":-0.5},{"f":157.5,"t":155,"p":-9,"q":-2},{"f":172.5,"t":155,"p":-12,"q":-3},{"f":187.5,"t":155,"p":-10,"q":-5},{"f":202.5,"t":155,"p":-13,"q":-10},{"f":217.5,"t":155,"p":-18,"q":-8},{"f":232.5,"t":155,"p":-20,"q":-12},{"f":247.5,"t":155,"p":-16,"q":-14},{"f":262.5,"t":155,"p":-19,"q":-10},{"f":277.5,"t":155,"p":-22,"q":-15},{"f":292.5,"t":155,"p":-23,"q":-10},{"f":307.5,"t":155,"p":-19,"q":-8},{"f":322.5,"t":155,"p":-22,"q":-7},{"f":337.5,"t":155,"p":-18,"q":-6},{"f":352.5,"t":155,"p":-20,"q":-5},
{"f":7.5,"t":165,"p":-16,"q":-6},{"f":22.5,"t":165,"p":-18,"q":-5},{"f":37.5,"t":165,"p":-13,"q":-4},{"f":52.5,"t":165,"p":-17,"q":-1.5},{"f":67.5,"t":165,"p":-9,"q":-1},{"f":82.5,"t":165,"p":-6,"q":-1},{"f":97.5,"t":165,"p":-4,"q":-1},{"f":112.5,"t":165,"p":-2.5,"q":0},{"f":127.5,"t":165,"p":-3,"q":-1},{"f":142.5,"t":165,"p":-3.5,"q":-1.5},{"f":157.5,"t":165,"p":-6,"q":-2},{"f":172.5,"t":165,"p":-8,"q":-2.5},{"f":187.5,"t":165,"p":-9,"q":-3},{"f":202.5,"t":165,"p":-12,"q":-5},{"f":217.5,"t":165,"p":-12,"q":-6},{"f":232.5,"t":165,"p":-14,"q":-5},{"f":247.5,"t":165,"p":-17,"q":-7},{"f":262.5,"t":165,"p":-16,"q":-5},{"f":277.5,"t":165,"p":-15,"q":-6},{"f":292.5,"t":165,"p":-17,"q":-5},{"f":307.5,"t":165,"p":-15,"q":-5},{"f":322.5,"t":165,"p":-13,"q":-6},{"f":337.5,"t":165,"p":-15,"q":-5},{"f":352.5,"t":165,"p":-16,"q":-5},
{"f":7.5,"t":175,"p":-11,"q":-4},{"f":22.5,"t":175,"p":-12,"q":-4},{"f":37.5,"t":175,"p":-11,"q":-3},{"f":52.5,"t":175,"p":-10,"q":-2.5},{"f":67.5,"t":175,"p":-10,"q":-2},{"f":82.5,"t":175,"p":-7,"q":-1.5},{"f":97.5,"t":175,"p":-6,"q":-1.5},{"f":112.5,"t":175,"p":-5,"q":-1.5},{"f":127.5,"t":175,"p":-5,"q":-1.5},{"f":142.5,"t":175,"p":-6,"q":-1.5},{"f":157.5,"t":175,"p":-7,"q":-2},{"f":172.5,"t":175,"p":-8,"q":-2},{"f":187.5,"t":175,"p":-8.5,"q":-2.5},{"f":202.5,"t":175,"p":-9,"q":-3},{"f":217.5,"t":175,"p":-10,"q":-3},{"f":232.5,"t":175,"p":-10,"q":-3.5},{"f":247.5,"t":175,"p":-11,"q":-3.5},{"f":262.5,"t":175,"p":-11,"q":-3.5},{"f":277.5,"t":175,"p":-11,"q":-3.5},{"f":292.5,"t":175,"p":-11,"q":-3.5},{"f":307.5,"t":175,"p":-10,"q":-3},{"f":322.5,"t":175,"p":-10,"q":-3},{"f":337.5,"t":175,"p":-10,"q":-3},{"f":352.5,"t":175,"p":-11,"q":-3.5}],
"bar":[{"g":-39.75},{"g":-39.25},{"g":-38.75},{"g":-38.25},{"g":-37.75},{"g":-37.25},{"g":-36.75},{"g":-36.25},{"g":-35.75},{"g":-35.25},{"g":-34.75},{"g":-34.25},{"g":-33.75},{"g":-33.25},{"g":-32.75},{"g":-32.25},{"g":-31.75},{"g":-31.25},{"g":-30.75},{"g":-30.25},{"g":-29.75},{"g":-29.25},{"g":-28.75},{"g":-28.25},{"g":-27.75},{"g":-27.25},{"g":-26.75},{"g":-26.25},{"g":-25.75},{"g":-25.25},{"g":-24.75},{"g":-24.25},{"g":-23.75},{"g":-23.25},{"g":-22.75},{"g":-22.25},{"g":-21.75},{"g":-21.25},{"g":-20.75},{"g":-20.25},{"g":-19.75},{"g":-19.25},{"g":-18.75},{"g":-18.25},{"g":-17.75},{"g":-17.25},{"g":-16.75},{"g":-16.25},{"g":-15.75},{"g":-15.25},{"g":-14.75},{"g":-14.25},{"g":-13.75},{"g":-13.25},{"g":-12.75},{"g":-12.25},{"g":-11.75},{"g":-11.25},{"g":-10.75},{"g":-10.25},{"g":-9.75},{"g":-9.25},{"g":-8.75},{"g":-8.25},{"g":-7.75},{"g":-7.25},{"g":-6.75},{"g":-6.25},{"g":-5.75},{"g":-5.25},{"g":-4.75},{"g":-4.25},{"g":-3.75},{"g":-3.25},{"g":-2.75},{"g":-2.25},{"g":-1.75},{"g":-1.25},{"g":-0.75},{"g":-0.25},{"g":0.25},{"g":0.75},{"g":1.25},{"g":1.75},{"g":2.25},{"g":2.75},{"g":3.25},{"g":3.75},{"g":4.25},{"g":4.75}]},
"spacing":15,
"vconcat":[{"spacing":2,"vconcat":[
{"hconcat":[
{"width":236,"height":164,"title":"3GPP - Antenna element 1","layer":[
{"data":{"name":"gpp"},"mark":{"type":"rect","width":6.9,"height":14.2,"clip":true},"encoding":{"x":{"field":"f","type":"quantitative","scale":{"domain":[0,360],"nice":false},"axis":{"values":[0,90,180,270,360],"title":"ϕ (deg)"}},"y":{"field":"t","type":"quantitative","scale":{"domain":[0,180],"reverse":true,"nice":false},"axis":{"values":[0,45,90,135,180],"title":"θ(deg)"}},"color":{"field":"g","type":"quantitative","legend":null,"scale":{"domain":[-40,-35,-32,-30,-25,-20,-18.5,-15,-12,-10,-7,-5,-3,0,5],"range":["#3b27a5","#4a3fe0","#4760ff","#3b6cff","#2b98e8","#10b5d0","#08b8cc","#30c4a0","#62cf78","#90cb50","#c8bb30","#d8b52a","#fdb53c","#fdcb2c","#f7fb14"]}}}},
{"data":{"name":"gpp"},"mark":{"type":"rect","width":13,"height":27,"opacity":0.4,"clip":true},"encoding":{"x":{"field":"f","type":"quantitative","axis":null},"y":{"field":"t","type":"quantitative","axis":null},"color":{"field":"g","type":"quantitative","legend":null}}},
{"data":{"name":"box"},"mark":"rect","encoding":{"x":{"field":"a","type":"quantitative","axis":null},"x2":{"field":"b"},"y":{"field":"c","type":"quantitative","axis":null},"y2":{"field":"d"},"color":{"field":"g","type":"quantitative","legend":null}}},
{"data":{"name":"hole"},"mark":{"type":"rect","width":6.9,"height":15},"encoding":{"x":{"field":"f","type":"quantitative","axis":null},"y":{"field":"t","type":"quantitative","axis":null},"color":{"field":"g","type":"quantitative","legend":null}}},
{"data":{"values":[]},"mark":"rule","encoding":{"x":{"field":"a","type":"quantitative","axis":{"orient":"top","values":[0,90,180,270,360],"labels":false,"title":null}},"y":{"field":"c","type":"quantitative","axis":{"orient":"right","values":[0,45,90,135,180],"labels":false,"title":null}}}}],"resolve":{"axis":{"x":"independent","y":"independent"}}},
{"width":235,"height":164,"title":"3GPP - Antenna element 4","layer":[
{"data":{"name":"gpp"},"mark":{"type":"rect","width":6.9,"height":14.2,"clip":true},"encoding":{"x":{"field":"f","type":"quantitative","scale":{"domain":[0,360],"nice":false},"axis":{"values":[0,90,180,270,360],"title":"ϕ (deg)"}},"y":{"field":"t","type":"quantitative","scale":{"domain":[0,180],"reverse":true,"nice":false},"axis":{"values":[0,45,90,135,180],"title":"θ(deg)"}},"color":{"field":"g","type":"quantitative","legend":null,"scale":{"domain":[-40,-35,-32,-30,-25,-20,-18.5,-15,-12,-10,-7,-5,-3,0,5],"range":["#3b27a5","#4a3fe0","#4760ff","#3b6cff","#2b98e8","#10b5d0","#08b8cc","#30c4a0","#62cf78","#90cb50","#c8bb30","#d8b52a","#fdb53c","#fdcb2c","#f7fb14"]}}}},
{"data":{"name":"gpp"},"mark":{"type":"rect","width":13,"height":27,"opacity":0.4,"clip":true},"encoding":{"x":{"field":"f","type":"quantitative","axis":null},"y":{"field":"t","type":"quantitative","axis":null},"color":{"field":"g","type":"quantitative","legend":null}}},
{"data":{"name":"box"},"mark":"rect","encoding":{"x":{"field":"a","type":"quantitative","axis":null},"x2":{"field":"b"},"y":{"field":"c","type":"quantitative","axis":null},"y2":{"field":"d"},"color":{"field":"g","type":"quantitative","legend":null}}},
{"data":{"name":"hole"},"mark":{"type":"rect","width":6.9,"height":15},"encoding":{"x":{"field":"f","type":"quantitative","axis":null},"y":{"field":"t","type":"quantitative","axis":null},"color":{"field":"g","type":"quantitative","legend":null}}},
{"data":{"values":[]},"mark":"rule","encoding":{"x":{"field":"a","type":"quantitative","axis":{"orient":"top","values":[0,90,180,270,360],"labels":false,"title":null}},"y":{"field":"c","type":"quantitative","axis":{"orient":"right","values":[0,45,90,135,180],"labels":false,"title":null}}}}],"resolve":{"axis":{"x":"independent","y":"independent"}}}],"spacing":70,"bounds":"flush"},
{"hconcat":[
{"width":236,"height":163,"title":"CST - Antenna element 1","layer":[{"data":{"name":"cst"},"mark":{"type":"rect","width":10.4,"height":9.5,"clip":true},"encoding":{"x":{"field":"f","type":"quantitative","scale":{"domain":[0,360],"nice":false},"axis":{"values":[0,90,180,270,360],"title":"ϕ (deg)"}},"y":{"field":"t","type":"quantitative","scale":{"domain":[0,180],"reverse":true,"nice":false},"axis":{"values":[0,45,90,135,180],"title":"θ(deg)"}},"color":{"field":"p","type":"quantitative","legend":null,"scale":{"domain":[-40,-35,-32,-30,-25,-20,-18.5,-15,-12,-10,-7,-5,-3,0,5],"range":["#3b27a5","#4a3fe0","#4760ff","#3b6cff","#2b98e8","#10b5d0","#08b8cc","#30c4a0","#62cf78","#90cb50","#c8bb30","#d8b52a","#fdb53c","#fdcb2c","#f7fb14"]}}}},
{"data":{"name":"cst"},"mark":{"type":"rect","width":16,"height":14,"opacity":0.3,"clip":true},"encoding":{"x":{"field":"f","type":"quantitative","axis":null},"y":{"field":"t","type":"quantitative","axis":null},"color":{"field":"p","type":"quantitative","legend":null}}},
{"data":{"values":[]},"mark":"rule","encoding":{"x":{"field":"a","type":"quantitative","axis":{"orient":"top","values":[0,90,180,270,360],"labels":false,"title":null}},"y":{"field":"c","type":"quantitative","axis":{"orient":"right","values":[0,45,90,135,180],"labels":false,"title":null}}}}],"resolve":{"axis":{"x":"independent","y":"independent"}}},
{"width":235,"height":163,"title":"CST - Antenna element 4","layer":[{"data":{"name":"cst"},"mark":{"type":"rect","width":10.4,"height":9.5,"clip":true},"encoding":{"x":{"field":"f","type":"quantitative","scale":{"domain":[0,360],"nice":false},"axis":{"values":[0,90,180,270,360],"title":"ϕ (deg)"}},"y":{"field":"t","type":"quantitative","scale":{"domain":[0,180],"reverse":true,"nice":false},"axis":{"values":[0,45,90,135,180],"title":"θ(deg)"}},"color":{"field":"q","type":"quantitative","legend":null,"scale":{"domain":[-40,-35,-32,-30,-25,-20,-18.5,-15,-12,-10,-7,-5,-3,0,5],"range":["#3b27a5","#4a3fe0","#4760ff","#3b6cff","#2b98e8","#10b5d0","#08b8cc","#30c4a0","#62cf78","#90cb50","#c8bb30","#d8b52a","#fdb53c","#fdcb2c","#f7fb14"]}}}},
{"data":{"name":"cst"},"mark":{"type":"rect","width":16,"height":14,"opacity":0.3,"clip":true},"encoding":{"x":{"field":"f","type":"quantitative","axis":null},"y":{"field":"t","type":"quantitative","axis":null},"color":{"field":"q","type":"quantitative","legend":null}}},
{"data":{"values":[]},"mark":"rule","encoding":{"x":{"field":"a","type":"quantitative","axis":{"orient":"top","values":[0,90,180,270,360],"labels":false,"title":null}},"y":{"field":"c","type":"quantitative","axis":{"orient":"right","values":[0,45,90,135,180],"labels":false,"title":null}}}}],"resolve":{"axis":{"x":"independent","y":"independent"}}}],"spacing":70,"bounds":"flush"}]},
{"width":542,"height":21,"data":{"name":"bar"},"mark":{"type":"rect","width":6.4},"encoding":{"x":{"field":"g","type":"quantitative","scale":{"domain":[-40,5],"nice":false},"axis":{"values":[-40,-35,-30,-25,-20,-15,-10,-5,0,5],"title":"Gain (dBi)","labelExpr":"''+datum.value","tickSize":-5,"titleFontSize":15,"labelPadding":11,"titlePadding":9}},"color":{"field":"g","type":"quantitative","legend":null,"scale":{"domain":[-40,-35,-32,-30,-25,-20,-18.5,-15,-12,-10,-7,-5,-3,0,5],"range":["#3b27a5","#4a3fe0","#4760ff","#3b6cff","#2b98e8","#10b5d0","#08b8cc","#30c4a0","#62cf78","#90cb50","#c8bb30","#d8b52a","#fdb53c","#fdcb2c","#f7fb14"]}}}}]}
